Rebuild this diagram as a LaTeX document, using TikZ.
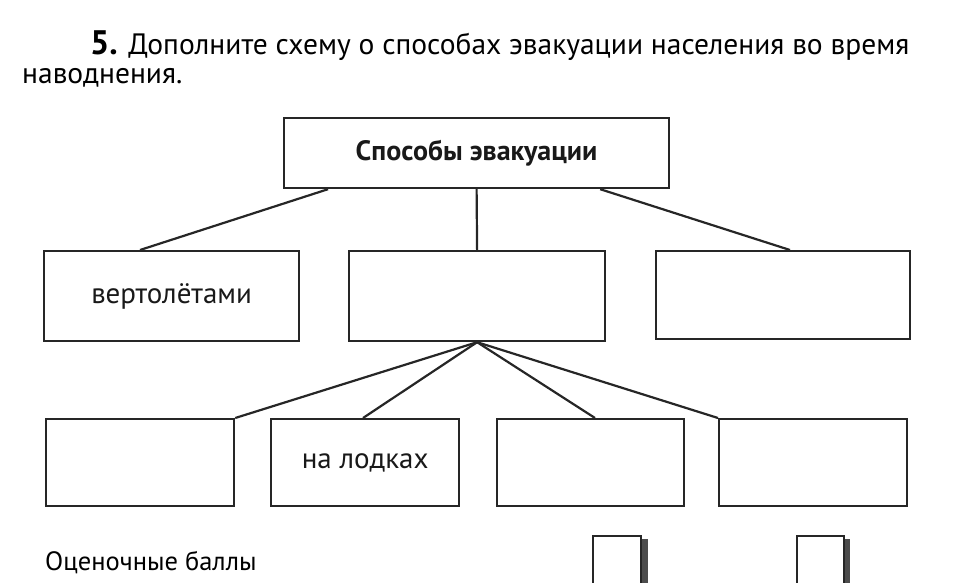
\documentclass[tikz,border=0pt]{standalone}
\usepackage{fontspec}
\setmainfont{PT Sans}
\begin{document}
\begin{tikzpicture}[x=1pt,y=-1pt,
  box/.style={draw=black!85,line width=2.2pt,fill=white,inner sep=0pt,anchor=north west},
  conn/.style={draw=black!85,line width=2.2pt},
  lbl/.style={font=\fontsize{29}{33}\selectfont,text=black!90}]
\useasboundingbox (0,0) rectangle (972,583);
\clip (0,0) rectangle (972,583);
% title
\node[anchor=base west,inner sep=0pt,font=\fontsize{29.5}{34}\selectfont] (t1) at (90,55) {{\bfseries\fontsize{34}{34}\selectfont 5.} Дополните схему о способах эвакуации населения во время};
\node[anchor=base west,inner sep=0pt,font=\fontsize{29.5}{34}\selectfont] (t2) at (22,84) {наводнения.};
% boxes
\node[box,minimum width=385,minimum height=70] (top) at (283,117) {};
\node[lbl,font=\bfseries\fontsize{28}{32}\selectfont] at (top.center) {Способы эвакуации};
\node[box,minimum width=255,minimum height=90] (vert) at (43,250) {};
\node[lbl] at (vert.center) {вертолётами};
\node[box,minimum width=256,minimum height=90] (mid) at (348,250) {};
\node[box,minimum width=254,minimum height=88] (rgt) at (655,250) {};
\node[box,minimum width=188,minimum height=87] (b1) at (45,418) {};
\node[box,minimum width=188,minimum height=87] (b2) at (270,418) {};
\node[lbl] at (b2.center) {на лодках};
\node[box,minimum width=187,minimum height=87] (b3) at (496,418) {};
\node[box,minimum width=188,minimum height=87] (b4) at (718,418) {};
% connectors
\draw[conn] ([xshift=45pt]top.south west) -- ([xshift=97pt]vert.north west);
\draw[conn] (top.south) -- (mid.north);
\draw[conn] ([xshift=-70pt]top.south east) -- ([xshift=135pt]rgt.north west);
\draw[conn] (mid.south) -- (b1.north east);
\draw[conn] (mid.south) -- ([xshift=93pt]b2.north west);
\draw[conn] (mid.south) -- ([xshift=99pt]b3.north west);
\draw[conn] (mid.south) -- (b4.north west);
% score
\node[anchor=base west,inner sep=0pt,font=\fontsize{26.5}{30}\selectfont] (score) at (45,570) {Оценочные баллы};
\fill[black!70] (640,539) rectangle (648,590);
\fill[black!70] (843,539) rectangle (850,590);
\node[box,minimum width=48,minimum height=60] (s1) at (592,535) {};
\node[box,minimum width=47,minimum height=60] (s2) at (796,535) {};
\end{tikzpicture}
\end{document}
